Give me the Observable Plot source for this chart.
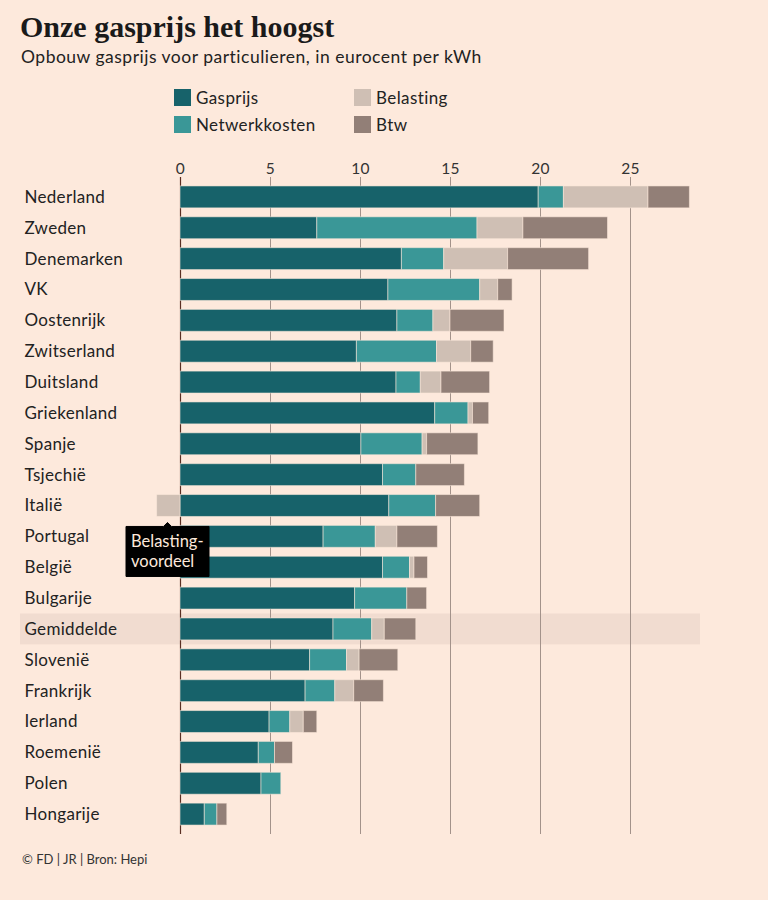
<!DOCTYPE html>
<html>
<head>
<meta charset="utf-8">
<script src="https://cdn.jsdelivr.net/npm/d3@7"></script>
<script src="https://cdn.jsdelivr.net/npm/@observablehq/plot@0.6"></script>
<style>
  html, body { margin: 0; padding: 0; background: #fde9dc; }
  #wrap { position: relative; width: 768px; height: 900px; background: #fde9dc; font-family: Lato, "Open Sans", sans-serif; color: #222; overflow: hidden; }
  #title { position: absolute; left: 20px; top: 12px; margin: 0; font-family: "Liberation Serif", "DejaVu Serif", serif; font-weight: bold; font-size: 30px; line-height: 1; letter-spacing: 0; color: #1a1a1a; white-space: nowrap; }
  #subtitle { position: absolute; left: 21px; top: 48px; font-size: 17.5px; line-height: 1; letter-spacing: 0.5px; color: #222; white-space: nowrap; }
  .leg { position: absolute; display: flex; align-items: center; font-size: 17px; letter-spacing: 0.4px; color: #222; line-height: 17px; }
  .sw { width: 17px; height: 17px; margin-right: 5px; }
  #chart { position: absolute; left: 0; top: 150px; }
  #chart svg g[aria-label="text"] text, #chart svg g[aria-label="x-axis tick label"] text { letter-spacing: 0.3px; }
  #caption { position: absolute; left: 22px; top: 851px; font-size: 13px; color: #333; }
</style>
</head>
<body>
<div id="wrap">
  <h1 id="title">Onze gasprijs het hoogst</h1>
  <div id="subtitle">Opbouw gasprijs voor particulieren, in eurocent per kWh</div>
  <div id="legend"></div>
  <div id="chart"></div>
  <div id="caption">© FD | JR | Bron: Hepi</div>
</div>
<script>
const countries = ["Nederland","Zweden","Denemarken","VK","Oostenrijk","Zwitserland","Duitsland","Griekenland","Spanje","Tsjechië","Italië","Portugal","België","Bulgarije","Gemiddelde","Slovenië","Frankrijk","Ierland","Roemenië","Polen","Hongarije"];
const gasprijs      = [19.9, 7.6, 12.3, 11.55, 12.05, 9.8, 12.0, 14.15, 10.05, 11.25, 11.6, 7.95, 11.25, 9.7, 8.5, 7.2, 6.95, 4.95, 4.35, 4.5, 1.35];
const netwerkkosten = [1.4, 8.9, 2.35, 5.1, 2.0, 4.45, 1.35, 1.85, 3.4, 1.85, 2.6, 2.9, 1.5, 2.9, 2.15, 2.05, 1.65, 1.15, 0.9, 1.1, 0.7];
const belasting     = [4.7, 2.55, 3.55, 1.0, 0.95, 1.9, 1.15, 0.25, 0.25, 0, -1.3, 1.2, 0.25, 0, 0.7, 0.7, 1.05, 0.75, 0, 0, 0];
const btw           = [2.3, 4.7, 4.5, 0.8, 3.0, 1.25, 2.7, 0.9, 2.85, 2.7, 2.45, 2.25, 0.75, 1.1, 1.75, 2.15, 1.65, 0.75, 1.0, 0, 0.55];
const types = ["Gasprijs","Netwerkkosten","Belasting","Btw"];
const colors = ["#17626a","#3a9797","#cfbfb4","#927f77"];
const xTicks = [0, 5, 10, 15, 20, 25];
const highlight = ["Gemiddelde"];
const note = [{country: "Italië", value: -0.7, text: "Belasting-\nvoordeel"}];

// legend
const legendPos = [[174, 89], [174, 116], [354, 89], [354, 116]];
const legend = document.getElementById("legend");
types.forEach((t, i) => {
  const d = document.createElement("div");
  d.className = "leg";
  d.style.left = legendPos[i][0] + "px";
  d.style.top = legendPos[i][1] + "px";
  d.innerHTML = `<span class="sw" style="background:${colors[i]}"></span><span>${t}</span>`;
  legend.appendChild(d);
});

const series = [gasprijs, netwerkkosten, belasting, btw];
const rows = [];
countries.forEach((c, i) => {
  types.forEach((t, j) => {
    const v = series[j][i];
    if (v !== 0) rows.push({country: c, type: t, value: v});
  });
});

const chart = Plot.plot({
  width: 768,
  height: 690,
  marginTop: 27,
  marginBottom: 6,
  marginLeft: 180,
  marginRight: 48,
  style: {background: "transparent", fontFamily: "Lato, 'Open Sans', sans-serif", fontSize: "15px", color: "#222"},
  x: {domain: [0, 30], axis: null},
  y: {domain: countries, padding: 0.29, round: false, axis: null},
  color: {domain: types, range: colors},
  marks: [
    Plot.cell(highlight, {y: d => d, fill: "#f1dcd0", insetLeft: -160, insetRight: 20, insetTop: -4.5, insetBottom: -4.5}),
    Plot.gridX(xTicks, {stroke: "#a3928a", strokeOpacity: 1, strokeWidth: 1}),
    Plot.ruleX([0], {stroke: "#5a2e22", strokeWidth: 1.2}),
    Plot.axisX(xTicks, {anchor: "top", label: null, tickSize: 0, tickPadding: 4, fontSize: 15.5, fill: "#333"}),
    Plot.barX(rows, Plot.stackX({y: "country", x: "value", fill: "type", order: types, stroke: "#fde9dc", strokeOpacity: 0.55, strokeWidth: 1})),
    Plot.text(countries, {y: d => d, frameAnchor: "left", textAnchor: "start", dx: -156, fontSize: 17, fill: "#222"}),
    Plot.tip(note, {x: "value", y: "country", title: "text", anchor: "top", dy: 16, fill: "black", stroke: "black", fontSize: 16.5, textPadding: 5, lineHeight: 1.2, pointerSize: 8, pathFilter: "none"})
  ]
});
document.getElementById("chart").appendChild(chart);
chart.querySelectorAll('g[aria-label="tip"] text, g[aria-label="tip"] tspan').forEach(t => { t.setAttribute("fill", "#fde9dc"); t.style.fill = "#fde9dc"; });
</script>
</body>
</html>
